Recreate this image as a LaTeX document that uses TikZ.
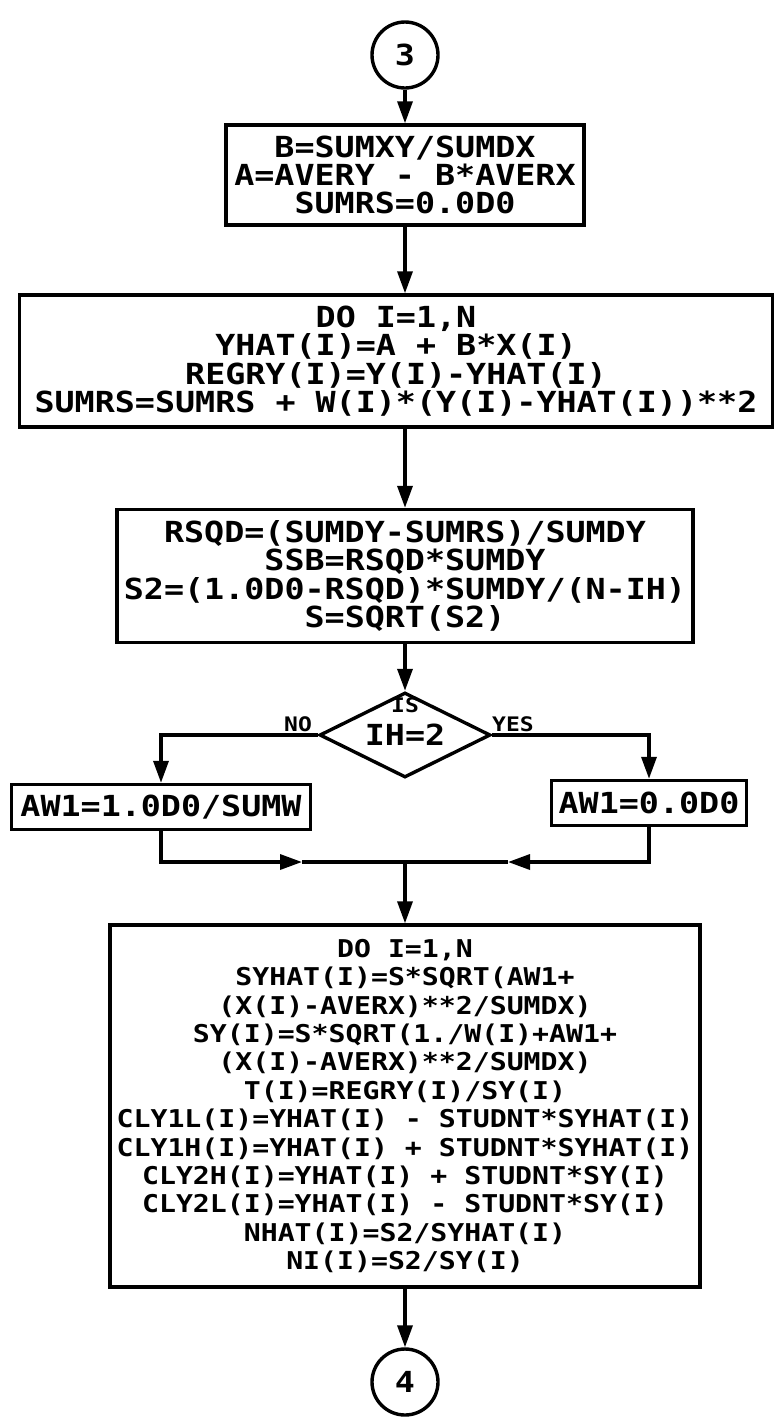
\documentclass[tikz,border=0pt]{standalone}
\usepackage{fontspec}
\newfontfamily\plotfont{DejaVu Sans Mono}[FakeStretch=1.15]
\usetikzlibrary{arrows.meta,shapes.geometric}

\begin{document}
\begin{tikzpicture}[x=1pt,y=-1pt,line width=3.4pt,
	>={Triangle[length=22pt,width=15pt]},
	every node/.style={font=\plotfont\bfseries\fontsize{29}{28.4}\selectfont,inner sep=0pt},
	stmt/.style={draw,rectangle,align=center},
	conn/.style={draw,circle,minimum size=66pt},
	tiny/.style={font=\plotfont\bfseries\fontsize{20}{20}\selectfont}]
			\useasboundingbox (0,0) rectangle (777,1417);
			
			\node [conn] (c3) at (405,55) {3};
			
			\node [stmt,minimum width=358pt,minimum height=100pt] (b1) at (405,175) {B=SUMXY/SUMDX\\A=AVERY - B*AVERX\\SUMRS=0.0D0};
			
			\node [stmt,minimum width=753pt,minimum height=132pt] (b2) at (396,361) {DO I=1,N\\YHAT(I)=A + B*X(I)\\REGRY(I)=Y(I)-YHAT(I)\\SUMRS=SUMRS + W(I)*(Y(I)-YHAT(I))**2};
			
			\node [stmt,minimum width=576pt,minimum height=133pt] (b3) at (405,576) {RSQD=(SUMDY-SUMRS)/SUMDY\\SSB=RSQD*SUMDY\\S2=(1.0D0-RSQD)*SUMDY/(N-IH)\\S=SQRT(S2)};
			
			\node [draw,diamond,aspect=2,minimum width=171pt,minimum height=85pt] (test) at (405,735) {IH=2};
			\node [tiny] (is) at (405,705) {IS};
			\node [tiny,anchor=south] (no) at (298,733) {NO};
			\node [tiny,anchor=south] (yes) at (513,733) {YES};
			
			\node [stmt,minimum width=299pt,minimum height=45pt] (lbox) at (161,807) {AW1=1.0D0/SUMW};
			\node [stmt,minimum width=195pt,minimum height=45pt] (rbox) at (649,803) {AW1=0.0D0};
			
			\coordinate (jn) at (405,862);
			\coordinate (ml) at (302,862);
			\coordinate (mr) at (508,862);
			
			\node [stmt,minimum width=590pt,minimum height=362pt,font=\plotfont\bfseries\fontsize{24.5}{28.4}\selectfont] (b5) at (405,1106) {DO I=1,N\\SYHAT(I)=S*SQRT(AW1+\\(X(I)-AVERX)**2/SUMDX)\\SY(I)=S*SQRT(1./W(I)+AW1+\\(X(I)-AVERX)**2/SUMDX)\\T(I)=REGRY(I)/SY(I)\\CLY1L(I)=YHAT(I) - STUDNT*SYHAT(I)\\CLY1H(I)=YHAT(I) + STUDNT*SYHAT(I)\\CLY2H(I)=YHAT(I) + STUDNT*SY(I)\\CLY2L(I)=YHAT(I) - STUDNT*SY(I)\\NHAT(I)=S2/SYHAT(I)\\NI(I)=S2/SY(I)};
			
			\node [conn] (c4) at (405,1382) {4};
			
			\draw [->] (c3) -- (b1);
			\draw [->] (b1) -- (b1 |- b2.north);
			\draw [->] (b1 |- b2.south) -- (b3);
			\draw [->] (b3) -- (test);
			\draw [->] (test.west) -| (lbox.north);
			\draw [->] (test.east) -| (rbox.north);
			\draw [->] (lbox.south) |- (ml);
			\draw (ml) -- (jn);
			\draw [->] (rbox.south) |- (mr);
			\draw (mr) -- (jn);
			\draw [->] (jn) -- (b5);
			\draw [->] (b5) -- (c4);
\end{tikzpicture}
\end{document}
